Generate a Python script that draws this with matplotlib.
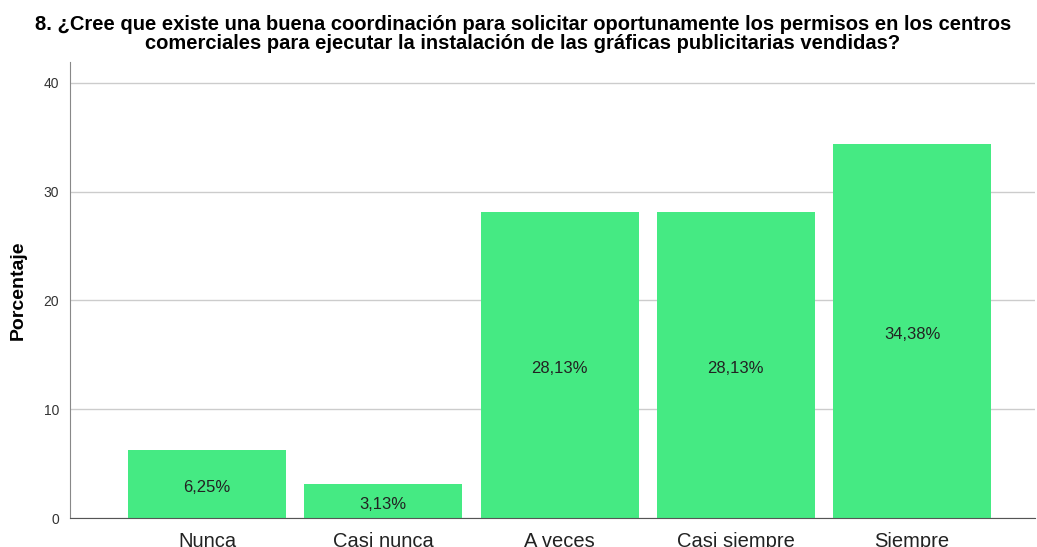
import numpy as np
import matplotlib
matplotlib.use('Agg')
import matplotlib.pyplot as plt

plt.rcParams['font.family'] = ['Liberation Sans', 'DejaVu Sans']

categories = ['Nunca', 'Casi nunca', 'A veces', 'Casi siempre', 'Siempre']
values = [6.25, 3.13, 28.13, 28.13, 34.38]
bar_labels = ['6,25%', '3,13%', '28,13%', '28,13%', '34,38%']
yticks = [0, 10, 20, 30, 40]

title = ('8. ¿Cree que existe una buena coordinación para solicitar oportunamente los permisos en los centros\n'
         'comerciales para ejecutar la instalación de las gráficas publicitarias vendidas?')

BAR_COLOR = '#45EA83'

fig = plt.figure(figsize=(10.37, 5.47), dpi=100)
ax = fig.add_axes([70 / 1037, 1 - 518 / 547, (1035 - 70) / 1037, (518 - 62) / 547])

x = np.arange(len(categories))
ax.bar(x, values, width=0.896, color=BAR_COLOR, zorder=2)
for xi, v, lab in zip(x, values, bar_labels):
    ax.text(xi, v / 2 - 0.3, lab, ha='center', va='center', fontsize=12, color='#222222', zorder=3)

ax.set_xlim(-0.777, 4.697)
ax.set_ylim(0, 41.9)
ax.set_yticks(yticks)
ax.set_yticklabels([str(t) for t in yticks])
ax.set_xticks(x)
ax.set_xticklabels(categories, fontsize=14.5, color='#222222')
ax.tick_params(axis='x', length=0, pad=10)
ax.tick_params(axis='y', length=0, pad=8, labelsize=10, labelcolor='#333333')

ax.grid(axis='y', color='#cccccc', linewidth=1.0, zorder=0)
ax.set_axisbelow(True)
for s in ['top', 'right']:
    ax.spines[s].set_visible(False)
ax.spines['left'].set_color('#888888')
ax.spines['bottom'].set_color('#555555')

ax.set_ylabel('Porcentaje', fontsize=14, fontweight='bold', labelpad=12)

fig.text(523 / 1037, 1 - 34 / 547, title, ha='center', va='center', fontsize=14.5,
         fontweight='bold', linespacing=1.0)

fig.savefig('out.png', dpi=100)
